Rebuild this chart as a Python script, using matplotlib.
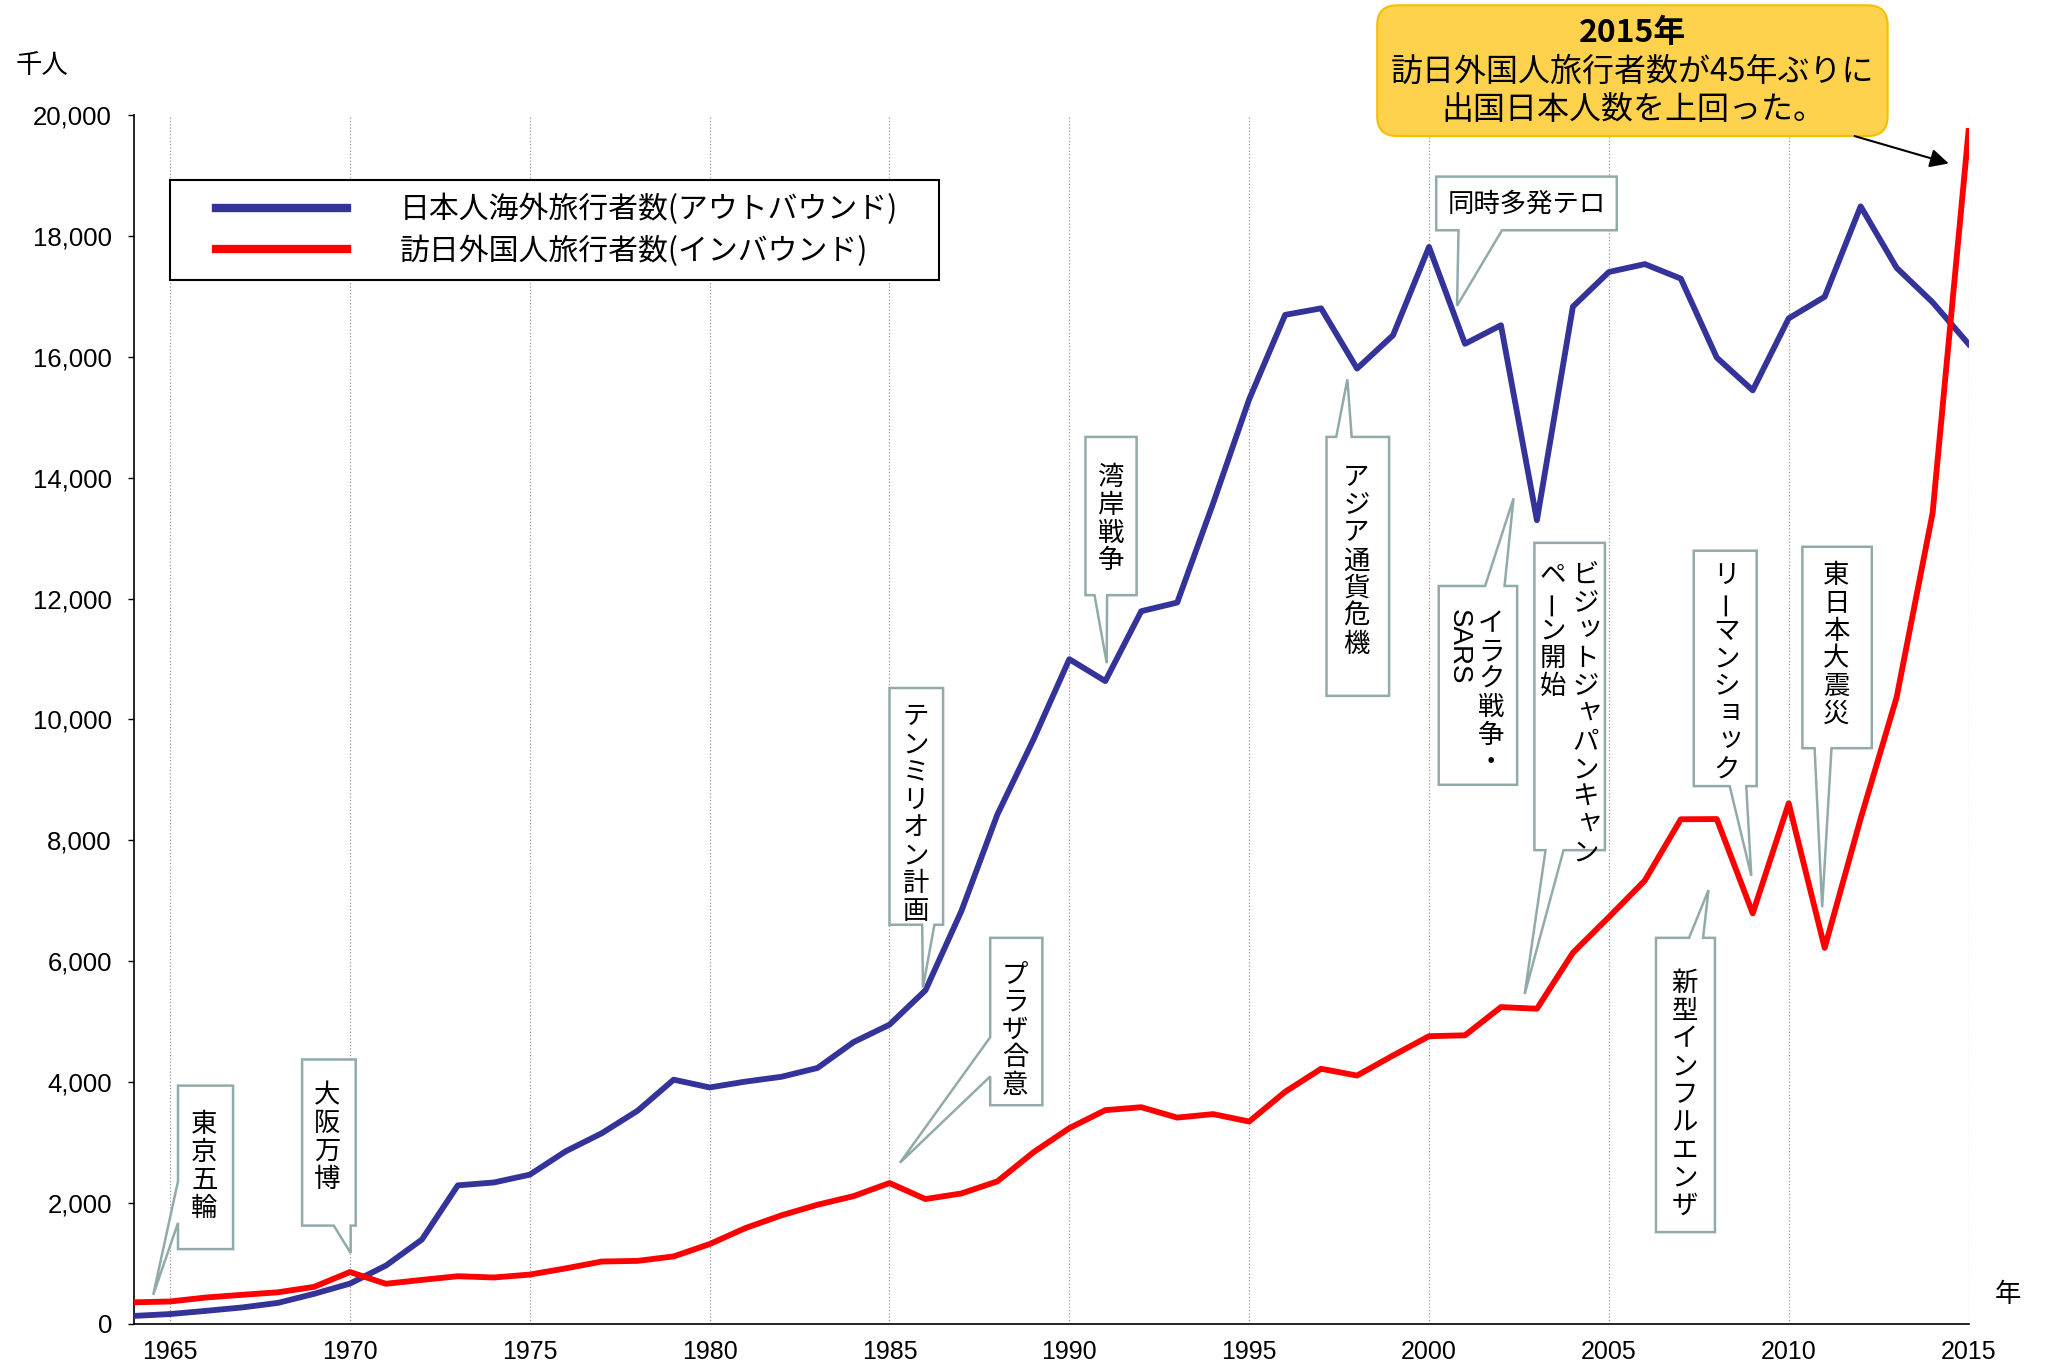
import matplotlib.pyplot as plt
from matplotlib.patches import Polygon, FancyBboxPatch
from matplotlib.legend_handler import HandlerLine2D

plt.rcParams['font.family'] = ['Noto Sans CJK JP', 'DejaVu Sans']
NUM_FONT = ['Liberation Sans', 'DejaVu Sans']

# データ（千人）
years = list(range(1964, 2016))
outbound = [128, 159, 212, 268, 344, 493, 663, 961, 1392, 2289,
            2336, 2466, 2853, 3151, 3525, 4038, 3909, 4006, 4086, 4232,
            4659, 4948, 5516, 6829, 8427, 9663, 10997, 10634, 11791, 11934,
            13579, 15298, 16695, 16803, 15806, 16358, 17819, 16216, 16523, 13296,
            16831, 17404, 17535, 17295, 15987, 15446, 16637, 16994, 18491, 17473,
            16903, 16213]
inbound = [353, 367, 433, 477, 519, 609, 854, 660, 724, 785,
           764, 812, 915, 1028, 1039, 1113, 1317, 1583, 1793, 1968,
           2110, 2327, 2062, 2155, 2355, 2835, 3236, 3533, 3582, 3410,
           3468, 3345, 3837, 4218, 4106, 4438, 4757, 4772, 5239, 5212,
           6138, 6728, 7334, 8347, 8351, 6790, 8611, 6219, 8358, 10364,
           13413, 19737]
label_out = '日本人海外旅行者数(アウトバウンド)'
label_in = '訪日外国人旅行者数(インバウンド)'
xticks = list(range(1965, 2016, 5))
yticks = list(range(0, 20001, 2000))

# 吹き出し（列は右から左へ）
callouts = [
    dict(cols=[('東京五輪', 1965.95)], y=3290, box=(1965.22, 1966.75, 1234, 3939),
         side='left', edge=(2359, 1667), tip=(1964.53, 476)),
    dict(cols=[('大阪万博', 1969.36)], y=3766, box=(1968.67, 1970.16, 1623, 4372),
         side='bottom', edge=(1969.55, 1970.02), tip=(1970.02, 1169)),
    dict(cols=[('テンミリオン計画', 1985.73)], y=10043, box=(1985.0, 1986.49, 6602, 10519),
         side='bottom', edge=(1985.91, 1986.25), tip=(1985.93, 5563)),
    dict(cols=[('プラザ合意', 1988.49)], y=5779, box=(1987.8, 1989.25, 3615, 6385),
         side='left', edge=(4740, 4091), tip=(1985.29, 2662)),
    dict(cols=[('湾岸戦争', 1991.15)], y=14004, box=(1990.45, 1991.87, 12056, 14675),
         side='bottom', edge=(1990.7, 1991.05), tip=(1991.04, 10931)),
    dict(cols=[('アジア通貨危機', 1997.98)], y=14004, box=(1997.15, 1998.89, 10390, 14675),
         side='top', edge=(1997.42, 1997.85), tip=(1997.73, 15628)),
    dict(cols=[('イラク戦争・', 2001.73), ('SARS', 2000.82)], y=11580,
         box=(2000.27, 2002.45, 8918, 12208),
         side='top', edge=(2001.56, 2002.1), tip=(2002.35, 13658)),
    dict(cols=[('ビジットジャパンキャン', 2004.35), ('ペーン開始', 2003.44)], y=12381,
         box=(2002.93, 2004.89, 7836, 12922),
         side='bottom', edge=(2003.24, 2003.74), tip=(2002.66, 5455)),
    dict(cols=[('新型インフルエンザ', 2007.11)], y=5628, box=(2006.31, 2007.95, 1515, 6385),
         side='top', edge=(2007.23, 2007.62), tip=(2007.77, 7175)),
    dict(cols=[('リーマンショック', 2008.27)], y=12381, box=(2007.36, 2009.11, 8896, 12792),
         side='bottom', edge=(2008.36, 2008.82), tip=(2008.96, 7411)),
    dict(cols=[('東日本大震災', 2011.33)], y=12381, box=(2010.38, 2012.31, 9524, 12857),
         side='bottom', edge=(2010.72, 2011.19), tip=(2010.93, 6892)),
]

SMALL_KANA = 'ッャュョァィゥェォ'
BOX_EDGE = '#93AAAA'


def callout_shape(box, side, edge, tip):
    x0, x1, y0, y1 = box
    if side == 'bottom':
        return [(x0, y1), (x1, y1), (x1, y0), (edge[1], y0), tip, (edge[0], y0), (x0, y0)]
    if side == 'top':
        return [(x0, y0), (x0, y1), (edge[0], y1), tip, (edge[1], y1), (x1, y1), (x1, y0)]
    # left
    return [(x0, y1), (x1, y1), (x1, y0), (x0, y0), (x0, edge[1]), tip, (x0, edge[0])]


def vertical_text(ax, text, x, y, size=19, step=20):
    if text.isascii():
        ax.annotate(text, (x, y), xytext=(0, size * 0.55), textcoords='offset points',
                    ha='center', va='top', rotation=-90, fontsize=size + 1,
                    family=['Liberation Sans', 'DejaVu Sans'], zorder=6)
        return
    for i, ch in enumerate(text):
        dx, dy, rot = 0, 0, 0
        if ch == 'ー':
            rot = 90
        elif ch in SMALL_KANA:
            dx, dy = size * 0.15, size * 0.15
        ax.annotate(ch, (x, y), xytext=(dx, -i * step + dy), textcoords='offset points',
                    ha='center', va='center', rotation=rot, fontsize=size, zorder=6)


fig = plt.figure(figsize=(20.51, 13.66), dpi=100)
ax = fig.add_axes([0.0654, 0.0310, 0.8944, 0.8847])

ax.plot(years, outbound, color='#333399', lw=4.2, label=label_out, zorder=3)
ax.plot(years, inbound, color='#FF0000', lw=4.2, label=label_in, zorder=3)

ax.set_xlim(1964, 2015)
ax.set_ylim(0, 20000)
ax.set_xticks(xticks)
ax.set_yticks(yticks)
ax.set_yticklabels([f'{v:,}' for v in yticks])
ax.tick_params(axis='y', direction='out', length=4, width=1, pad=12, labelsize=18.5)
ax.tick_params(axis='x', length=0, pad=12, labelsize=18)
for lab in ax.get_xticklabels() + ax.get_yticklabels():
    lab.set_family(NUM_FONT)

ax.grid(axis='x', linestyle=':', color='#999999', linewidth=0.9)
ax.set_axisbelow(True)
for s in ['top', 'right']:
    ax.spines[s].set_visible(False)
for s in ['left', 'bottom']:
    ax.spines[s].set_linewidth(1.2)

leg = ax.legend(loc='upper left', bbox_to_anchor=(0.0196, 0.0, 0.4193, 0.946),
                mode='expand', borderaxespad=0, fontsize=21.5,
                handlelength=5.5, handletextpad=1.75, borderpad=0.44,
                labelspacing=0.35, fancybox=False, framealpha=1, edgecolor='black',
                handler_map={plt.Line2D: HandlerLine2D(xpad=1.1)})
leg.get_frame().set_linewidth(1.5)
for h in leg.get_lines():
    h.set_linewidth(6)

# 吹き出し
for c in callouts:
    poly = Polygon(callout_shape(c['box'], c['side'], c['edge'], c['tip']), closed=True,
                   facecolor='white', edgecolor=BOX_EDGE, lw=1.8, zorder=5)
    ax.add_patch(poly)
    for text, x in c['cols']:
        vertical_text(ax, text, x, c['y'])

# 同時多発テロ（横書き）
ax.add_patch(Polygon(callout_shape((2000.2, 2005.22, 18095, 18983), 'bottom',
                                   (2000.82, 2002.03), (2000.78, 16846)),
                     closed=True, facecolor='white', edgecolor=BOX_EDGE, lw=1.8, zorder=5))
ax.text(2002.71, 18528, '同時多発テロ', ha='center', va='center', fontsize=19, zorder=6)

# 2015年の注記
p0 = ax.transData.transform((2000, 0))
p1 = ax.transData.transform((2001, 1000))
aspect = (p1[0] - p0[0]) / ((p1[1] - p0[1]) / 1000)
note = FancyBboxPatch((1998.56, 19654), 14.19, 2164,
                      boxstyle='round,pad=0,rounding_size=0.55', mutation_aspect=aspect,
                      facecolor='#FFD24D', edgecolor='#F6BE00', lw=1.5, clip_on=False, zorder=5)
ax.add_patch(note)
ax.text(2005.67, 21364, '2015年', ha='center', va='center', fontsize=23,
        fontweight='bold', zorder=6, clip_on=False)
ax.text(2005.67, 20714, '訪日外国人旅行者数が45年ぶりに', ha='center', va='center',
        fontsize=23, zorder=6, clip_on=False)
ax.text(2005.67, 20087, '出国日本人数を上回った。', ha='center', va='center',
        fontsize=23, zorder=6, clip_on=False)
ax.annotate('', xy=(2014.45, 19200), xytext=(2011.83, 19654),
            arrowprops=dict(arrowstyle='-|>', color='black', lw=1.5, mutation_scale=28,
                            shrinkA=0, shrinkB=0),
            annotation_clip=False, zorder=6)

fig.text(0.0205, 0.952, '千人', ha='center', va='center', fontsize=19)
fig.text(0.979, 0.052, '年', ha='center', va='center', fontsize=19)

fig.savefig('out.png', dpi=100)
